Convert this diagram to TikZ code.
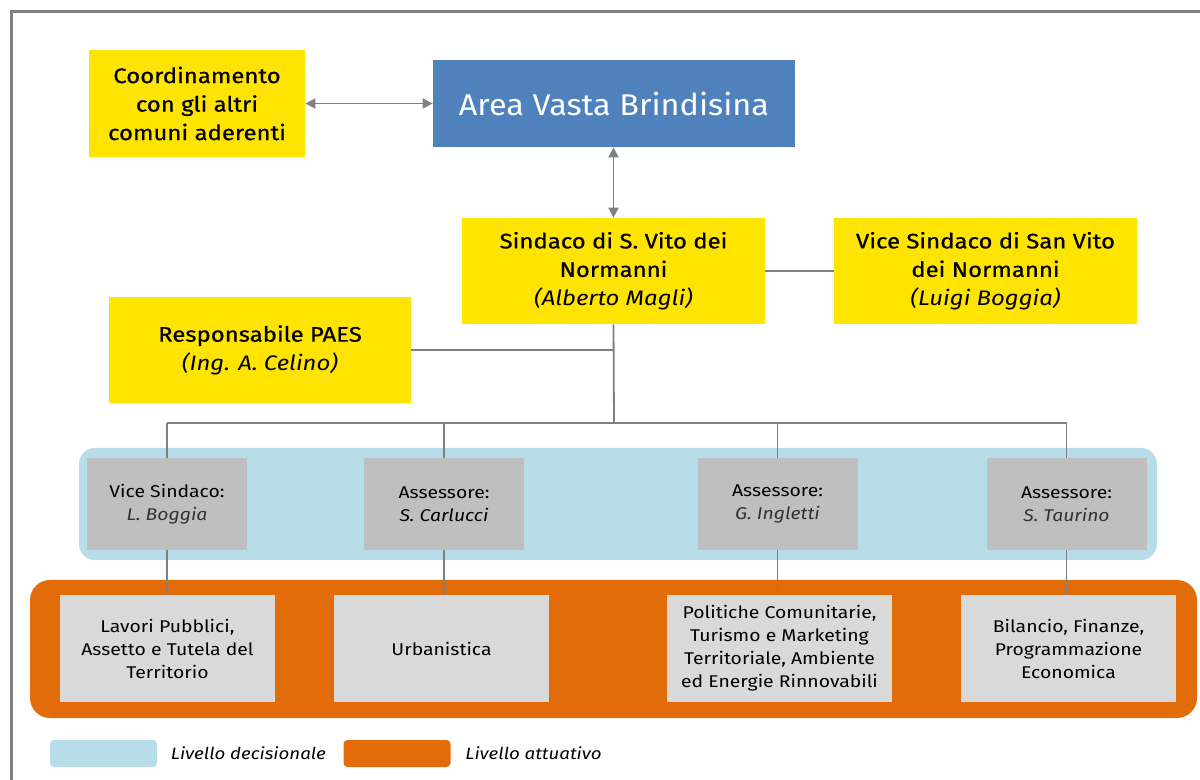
\documentclass[tikz,border=0pt]{standalone}
\usepackage{fontspec}
\setmainfont{Fira Sans}[FakeStretch=1.14]
\newfontfamily\fortefont{Fira Sans}[FakeStretch=1.14, FakeBold=0.6]
\newfontfamily\titolofont{Fira Sans}[FakeStretch=1.08]
\usepackage{xcolor}
\usetikzlibrary{calc,positioning}
\usetikzlibrary{arrows.meta}
\definecolor{giallo}{RGB}{255,228,0}
\definecolor{blu}{RGB}{79,129,189}
\definecolor{azzurro}{RGB}{183,221,232}
\definecolor{arancio}{RGB}{227,108,10}
\definecolor{grigio}{RGB}{191,191,191}
\definecolor{grigiochiaro}{RGB}{217,217,217}
\definecolor{linea}{RGB}{128,128,128}
\definecolor{nome}{RGB}{50,50,50}
\newcommand{\nomeit}[1]{{\normalfont\itshape #1}}

\begin{document}
\begin{tikzpicture}[x=0.5pt,y=-0.5pt,
        yellowbox/.style={fill=giallo, align=center, inner sep=0pt, minimum width=151.5pt, minimum height=53pt, font=\fortefont\fontsize{10.5}{14.25}\selectfont},
        graybox/.style={fill=grigio, align=center, inner sep=0pt, minimum width=80pt, minimum height=46pt, font=\fontsize{8.5}{11.5}\selectfont},
        lightbox/.style={fill=grigiochiaro, align=center, inner sep=0pt, minimum width=107.5pt, minimum height=53.5pt, font=\fontsize{8.5}{11.5}\selectfont},
        legbox/.style={inner sep=0pt, minimum width=53.5pt, minimum height=13.5pt, rounded corners=2pt},
        legtext/.style={inner sep=0pt, font=\fontsize{8.2}{11}\selectfont\itshape},
        wire/.style={linea, line width=0.9pt},
        biarrow/.style={wire, {Triangle[length=5pt,width=5pt]}-{Triangle[length=5pt,width=5pt]}}]
        \useasboundingbox (0,0) rectangle (1200,780);
        %CORNICE
        \draw[linea, line width=1.5pt] (11,780) |- (1200,12);
        %FASCE
        \fill[azzurro, rounded corners=8pt] (79,448) rectangle (1157,560);
        \fill[arancio, rounded corners=10pt] (30,580) rectangle (1197,718);
        %VERTICE
        \node[yellowbox, minimum width=108pt, minimum height=53.5pt] (coord) at (197,103.5) {Coordinamento\\con gli altri\\comuni aderenti};
        \node[fill=blu, text=white, inner sep=0pt, minimum width=181pt, minimum height=43.5pt, font=\titolofont\fontsize{15}{18}\selectfont] (area) at (614,103.5) {Area Vasta Brindisina};
        \node[yellowbox] (sindaco) at (613.5,271) {Sindaco di S. Vito dei\\Normanni\\\nomeit{(Alberto Magli)}};
        \node[yellowbox] (vice) at (985.5,271) {Vice Sindaco di San Vito\\dei Normanni\\\nomeit{(Luigi Boggia)}};
        \node[yellowbox, minimum width=151pt] (paes) at (260,350) {Responsabile PAES\\\nomeit{(Ing. A. Celino)}};
        %LIVELLO DECISIONALE
        \node[graybox] (vsb) at (167,504) {Vice Sindaco:\\{\itshape\color{nome}L. Boggia}};
        \node[graybox] (carl) at (444,504) {Assessore:\\{\itshape S. Carlucci}};
        \node[graybox] (ingl) at (777.5,504) {Assessore:\\{\itshape\color{nome}G. Ingletti}};
        \node[graybox] (taur) at (1066.5,504) {Assessore:\\{\itshape\color{nome}S. Taurino}};
        %LIVELLO ATTUATIVO
        \node[lightbox] (lav) at (167.5,648.5) {Lavori Pubblici,\\Assetto e Tutela del\\Territorio};
        \node[lightbox] (urb) at (441.5,648.5) {Urbanistica};
        \node[lightbox, minimum width=112.5pt] (pol) at (779.5,648.5) {Politiche Comunitarie,\\Turismo e Marketing\\Territoriale, Ambiente\\ed Energie Rinnovabili};
        \node[lightbox] (bil) at (1068.5,648.5) {Bilancio, Finanze,\\Programmazione\\Economica};
        %COLLEGAMENTI
        \coordinate (bus) at (614,423);
        \draw[biarrow] (coord) -- (area);
        \draw[biarrow] (area.south -| sindaco.north) -- (sindaco.north);
        \draw[wire] (sindaco.east) -- (vice.west);
        \draw[wire] (paes.east) -- (paes.east -| sindaco.south);
        \draw[wire] (sindaco.south) -- (bus);
        \draw[wire] (vsb.north |- bus) -- (taur.north |- bus);
        \foreach \b/\c in {vsb/lav, carl/urb, ingl/pol, taur/bil}{
            \draw[wire] (\b.north |- bus) -- (\b.north);
            \draw[wire] (\b.south) -- (\b.south |- \c.north);
        }
        %LEGENDA
        \node[legbox, fill=azzurro] (legdec) at (103.5,753.5) {};
        \node[legtext, right=6.5pt of legdec] (txtdec) {Livello decisionale};
        \node[legbox, fill=arancio] (legatt) at (397,753.5) {};
        \node[legtext, right=7pt of legatt] (txtatt) {Livello attuativo};
\end{tikzpicture}
\end{document}
